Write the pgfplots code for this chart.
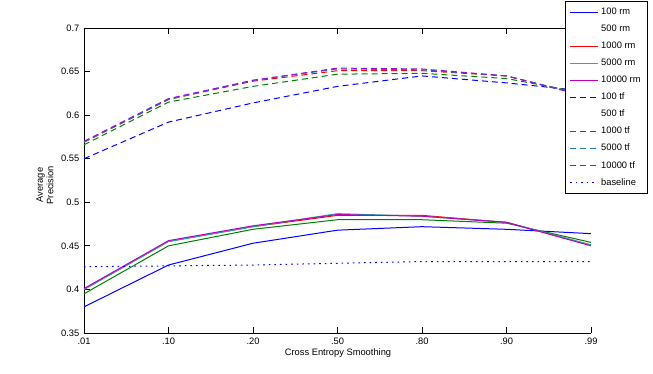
\documentclass[border=0pt]{standalone}
\usepackage{fontspec}
\setmainfont{Liberation Sans}
\usepackage{pgfplots}
\pgfplotsset{compat=1.18}
\definecolor{cblue}{RGB}{0,0,255}
\definecolor{cgreen}{RGB}{0,128,0}
\definecolor{cred}{RGB}{255,0,0}
\definecolor{ccyan}{RGB}{0,190,190}
\definecolor{cmag}{RGB}{190,0,190}
\definecolor{cteal}{RGB}{30,120,180}
\definecolor{cpurp}{RGB}{140,20,220}
\begin{document}
\begin{tikzpicture}
\begin{axis}[name=ax, at={(0,0)}, anchor=south west,
  scale only axis, width=380.25pt, height=228.75pt,
  xmin=0, xmax=6, ymin=0.35, ymax=0.7,
  axis x line=box, axis y line=left, axis line style={-, line width=0.7pt},
  xtick pos=both,
  tick align=inside, major tick length=4.5pt, tick style={line width=0.7pt, black},
  xtick={0,1,2,3,4,5,6}, xticklabels={.01,.10,.20,.50,.80,.90,.99},
  ytick={0.35,0.4,0.45,0.5,0.55,0.6,0.65,0.7},
  /pgf/number format/assume math mode=true,
  font=\fontsize{7}{8}\selectfont,
  tick label style={font=\fontsize{7}{8}\selectfont},
  xlabel={Cross Entropy Smoothing},
  xlabel style={at={(axis description cs:0.501,-0.066)}, anchor=center},
  ylabel={Average\\Precision},
  ylabel style={align=center, at={(axis description cs:-0.077,0.485)}, anchor=center},
  legend style={at={(0.9487,1.0885)}, anchor=north west, draw=black, fill=white,
    font=\fontsize{7}{8}\selectfont, row sep=2.3pt, inner xsep=3pt, inner ysep=3pt, line width=0.7pt},
  legend cell align=left,
  legend image code/.code={\draw[line width=0.8pt,#1] (0pt,0pt) -- (21pt,0pt);},
  every axis plot/.append style={line width=0.75pt},
]
% rm (solid)
\addplot[cblue] coordinates {(0,0.380) (1,0.428) (2,0.453) (3,0.468) (4,0.472) (5,0.469) (6,0.464)};
\addlegendentry{100 rm}
\addplot[cgreen, forget plot] coordinates {(0,0.395) (1,0.450) (2,0.469) (3,0.480) (4,0.480) (5,0.476) (6,0.454)};
\addlegendimage{draw opacity=0}
\addlegendentry{500 rm}
\addplot[cred] coordinates {(0,0.400) (1,0.455) (2,0.472) (3,0.485) (4,0.485) (5,0.477) (6,0.451)};
\addlegendentry{1000 rm}
\addplot[ccyan] coordinates {(0,0.400) (1,0.455) (2,0.472) (3,0.487) (4,0.484) (5,0.477) (6,0.451)};
\addlegendentry{5000 rm}
\addplot[cmag] coordinates {(0,0.401) (1,0.456) (2,0.473) (3,0.486) (4,0.484) (5,0.477) (6,0.450)};
\addlegendentry{10000 rm}
% tf (dashed)
\addplot[color=cblue, dash pattern=on 4.5pt off 3pt] coordinates {(0,0.550) (1,0.592) (2,0.614) (3,0.633) (4,0.645) (5,0.637) (6,0.627)};
\addlegendentry{100 tf}
\addplot[color=cgreen, dash pattern=on 4.5pt off 3pt, forget plot] coordinates {(0,0.566) (1,0.615) (2,0.633) (3,0.647) (4,0.648) (5,0.642) (6,0.624)};
\addlegendimage{draw opacity=0}
\addlegendentry{500 tf}
\addplot[color=cred, dash pattern=on 4.5pt off 3pt] coordinates {(0,0.569) (1,0.618) (2,0.639) (3,0.651) (4,0.651) (5,0.645) (6,0.621)};
\addlegendentry{1000 tf}
\addplot[color=cteal, dash pattern=on 4.5pt off 3pt] coordinates {(0,0.569) (1,0.618) (2,0.640) (3,0.653) (4,0.652) (5,0.645) (6,0.621)};
\addlegendentry{5000 tf}
\addplot[color=cpurp, dash pattern=on 4.5pt off 3pt] coordinates {(0,0.570) (1,0.619) (2,0.640) (3,0.654) (4,0.653) (5,0.645) (6,0.620)};
\addlegendentry{10000 tf}
% baseline
\addplot[cblue, dash pattern=on 1.2pt off 3pt] coordinates {(0,0.426) (1,0.427) (2,0.428) (3,0.430) (4,0.432) (5,0.432) (6,0.432)};
\addlegendentry{baseline}
\end{axis}
\pgfresetboundingbox
\useasboundingbox (-63pt,-30.75pt) rectangle (426.75pt,249.75pt);
\end{tikzpicture}
\end{document}
